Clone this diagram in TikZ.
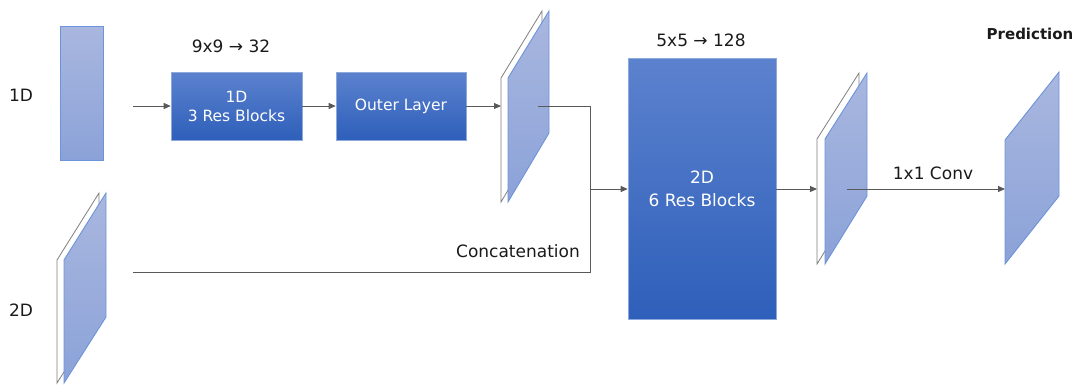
\documentclass[tikz,border=0pt]{standalone}
\usepackage{fontspec}
\setmainfont{DejaVu Sans}
\usetikzlibrary{arrows.meta}

\definecolor{linegray}{HTML}{595959}
\definecolor{edgegray}{HTML}{7F7F7F}
\definecolor{maptop}{HTML}{A9B7DF}
\definecolor{mapbot}{HTML}{8BA2D8}
\definecolor{mapedge}{HTML}{6D93DA}
\definecolor{blocktop}{HTML}{5C82CE}
\definecolor{blockbot}{HTML}{2E5FBA}
\definecolor{blockedge}{HTML}{8EA9DC}
\definecolor{textgray}{HTML}{1A1A1A}

\tikzset{
  conn/.style={draw=linegray, line width=0.9pt},
  arr/.style={conn, -{Triangle[length=7pt,width=6pt]}},
  backface/.style={fill=white, draw=edgegray, line width=0.8pt},
  frontface/.style={top color=maptop, bottom color=mapbot, draw=mapedge, line width=0.9pt},
  block/.style={top color=blocktop, bottom color=blockbot, draw=blockedge, line width=0.6pt,
    text=white, align=center, inner sep=0pt, font=\fontsize{15.5}{19}\selectfont},
  lbl/.style={text=textgray, inner sep=0pt, font=\fontsize{17}{20}\selectfont},
}

\begin{document}
\begin{tikzpicture}[x=1pt,y=-1pt]
\useasboundingbox (0,0) rectangle (1078,384);

% input labels
\node[lbl] (l1d) at (21,95) {1D};
\node[lbl] (l2d) at (21,310) {2D};

% 1D input strip
\shade[frontface] (60,26) rectangle (103,160);

% 2D input map (slab with front face)
\path[backface] (57,383) -- (57,260) -- (99,193) -- (99,317) -- cycle;
\path[frontface] (64,383) -- (64,260) -- (106,193) -- (106,317) -- cycle;

% 1D branch
\node[block, minimum width=131pt, minimum height=68pt] (res1) at (236.5,106) {1D\\3 Res Blocks};
\node[lbl] (k1) at (231,46) {9x9 → 32};
\node[block, minimum width=130pt, minimum height=68pt] (outer) at (401,106) {Outer Layer};

% feature map after the outer layer
\path[backface] (501,202) -- (501,78) -- (542,11) -- (542,133) -- cycle;
\path[frontface] (508,202) -- (508,78) -- (549,11) -- (549,133) -- cycle;

% 2D residual tower
\node[block, minimum width=148pt, minimum height=261pt, font=\fontsize{17}{23}\selectfont] (res2) at (702,188.5) {2D\\6 Res Blocks};
\node[lbl] (k2) at (701,40) {5x5 → 128};

% output feature map
\path[backface] (817,264) -- (817,139) -- (859,73) -- (859,196) -- cycle;
\path[frontface] (825,264) -- (825,139) -- (867,73) -- (867,196) -- cycle;

% prediction map
\path[frontface] (1005,264) -- (1005,140) -- (1059,72) -- (1059,196) -- cycle;
\node[lbl, font=\fontsize{15}{18}\selectfont\bfseries] (pred) at (1030,34) {Prediction};

% connector anchor points
\coordinate (in1) at (133,106);
\coordinate (in2) at (133,272);
\coordinate (mapA) at (501,106);
\coordinate (mapAc) at (538,106);
\coordinate (turn) at (590,106);
\coordinate (join) at (590,189);
\coordinate (low) at (590,272);
\coordinate (mapB) at (817,189);
\coordinate (mapBc) at (847,189);
\coordinate (predin) at (1005,189);

% connectors
\draw[arr] (in1) -- (res1.west);
\draw[arr] (res1.east) -- (outer.west);
\draw[arr] (outer.east) -- (mapA);
\draw[conn] (mapAc) -- (turn) -- (low) -- (in2);
\draw[arr] (join) -- (res2.west |- join);
\draw[arr] (res2.east |- mapB) -- (mapB);
\draw[arr] (mapBc) -- (predin);

% connector labels
\node[lbl] (cat) at (518,251) {Concatenation};
\node[lbl] (conv) at (933,173) {1x1 Conv};
\end{tikzpicture}
\end{document}
